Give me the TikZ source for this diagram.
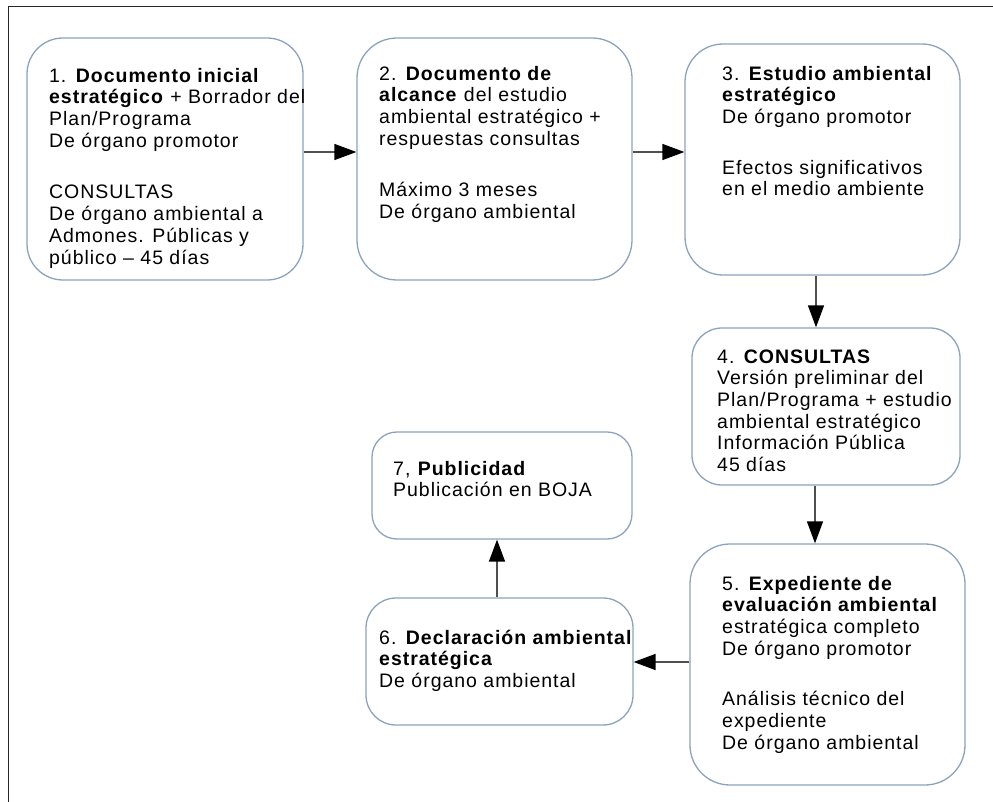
\documentclass[tikz,border=0pt]{standalone}
\usepackage{fontspec}
\setmainfont{Liberation Sans}[LetterSpace=5]
\usetikzlibrary{arrows.meta,calc}
\definecolor{edge}{HTML}{8CA3BE}
\definecolor{arrline}{HTML}{505050}
\begin{document}
\begin{tikzpicture}[x=1pt,y=-1pt,
  box/.style={draw=edge, line width=1.3pt, fill=white, inner sep=0pt},
  txt/.style={anchor=north west, inner sep=0pt, align=left, font=\fontsize{19.5}{21.7}\selectfont},
  arr/.style={draw=arrline, line width=1.4pt, -{Triangle[length=22pt,width=16pt,color=black]}}
]
\useasboundingbox (0,0) rectangle (993,802);
\fill[white] (0,0) rectangle (993,802);
% frame
\draw[line width=1pt, black!85] (8,802) -- (8,7) -- (993,7);

% boxes
\node[box, rounded corners=36pt, minimum width=276pt, minimum height=242pt] (b1) at (165,159) {};
\node[box, rounded corners=40pt, minimum width=275pt, minimum height=242pt] (b2) at (494.5,159) {};
\node[box, rounded corners=38pt, minimum width=275pt, minimum height=231pt] (b3) at (822.5,159.5) {};
\node[box, rounded corners=30pt, minimum width=268pt, minimum height=157pt] (b4) at (826,406.5) {};
\node[box, rounded corners=40pt, minimum width=275pt, minimum height=241pt] (b5) at (827.5,664.5) {};
\node[box, rounded corners=30pt, minimum width=267pt, minimum height=127pt] (b6) at (499.5,661.5) {};
\node[box, rounded corners=25pt, minimum width=260pt, minimum height=107pt] (b7) at (502,485.5) {};

% texts
\node[txt] (t1) at (49,66.8) {\strut 1. \textbf{Documento inicial}\\
\textbf{estratégico} + Borrador del\\
Plan/Programa\\
De órgano promotor\\[30pt]
CONSULTAS\\
De órgano ambiental a\\
Admones. Públicas y\\
público – 45 días};

\node[txt] (t2) at (379,64.8) {\strut 2. \textbf{Documento de}\\
\textbf{alcance} del estudio\\
ambiental estratégico +\\
respuestas consultas\\[30pt]
Máximo 3 meses\\
De órgano ambiental};

\node[txt] (t3) at (722,64.8) {\strut 3. \textbf{Estudio ambiental}\\
\textbf{estratégico}\\
De órgano promotor\\[29pt]
Efectos significativos\\
en el medio ambiente};

\node[txt] (t4) at (717,347.8) {\strut 4. \textbf{CONSULTAS}\\
Versión preliminar del\\
Plan/Programa + estudio\\
ambiental estratégico\\
Información Pública\\
45 días};

\node[txt] (t5) at (722,574.8) {\strut 5. \textbf{Expediente de}\\
\textbf{evaluación ambiental}\\
estratégica completo\\
De órgano promotor\\[29pt]
Análisis técnico del\\
expediente\\
De órgano ambiental};

\node[txt] (t6) at (379,628.8) {\strut 6. \textbf{Declaración ambiental}\\
\textbf{estratégica}\\
De órgano ambiental};

\node[txt] (t7) at (393,459.8) {\strut 7, \textbf{Publicidad}\\
Publicación en BOJA};

% connectors
\coordinate (a1) at ([yshift=7pt]b1.east);
\draw[arr] (a1) -- (a1 -| b2.west);
\coordinate (a2) at ([yshift=7pt]b2.east);
\draw[arr] (a2) -- (a2 -| b3.west);
\coordinate (a3) at ([xshift=-6.5pt]b3.south);
\draw[arr] (a3) -- (a3 |- b4.north);
\coordinate (a4) at ([xshift=-11pt]b4.south);
\draw[arr] (a4) -- (a4 |- b5.north);
\coordinate (a5) at ([yshift=2.5pt]b5.west);
\draw[arr] (a5) -- (a5 -| b6.east);
\coordinate (a6) at ([xshift=-2.5pt]b6.north);
\draw[arr] (a6) -- (a6 |- b7.south);
\end{tikzpicture}
\end{document}
